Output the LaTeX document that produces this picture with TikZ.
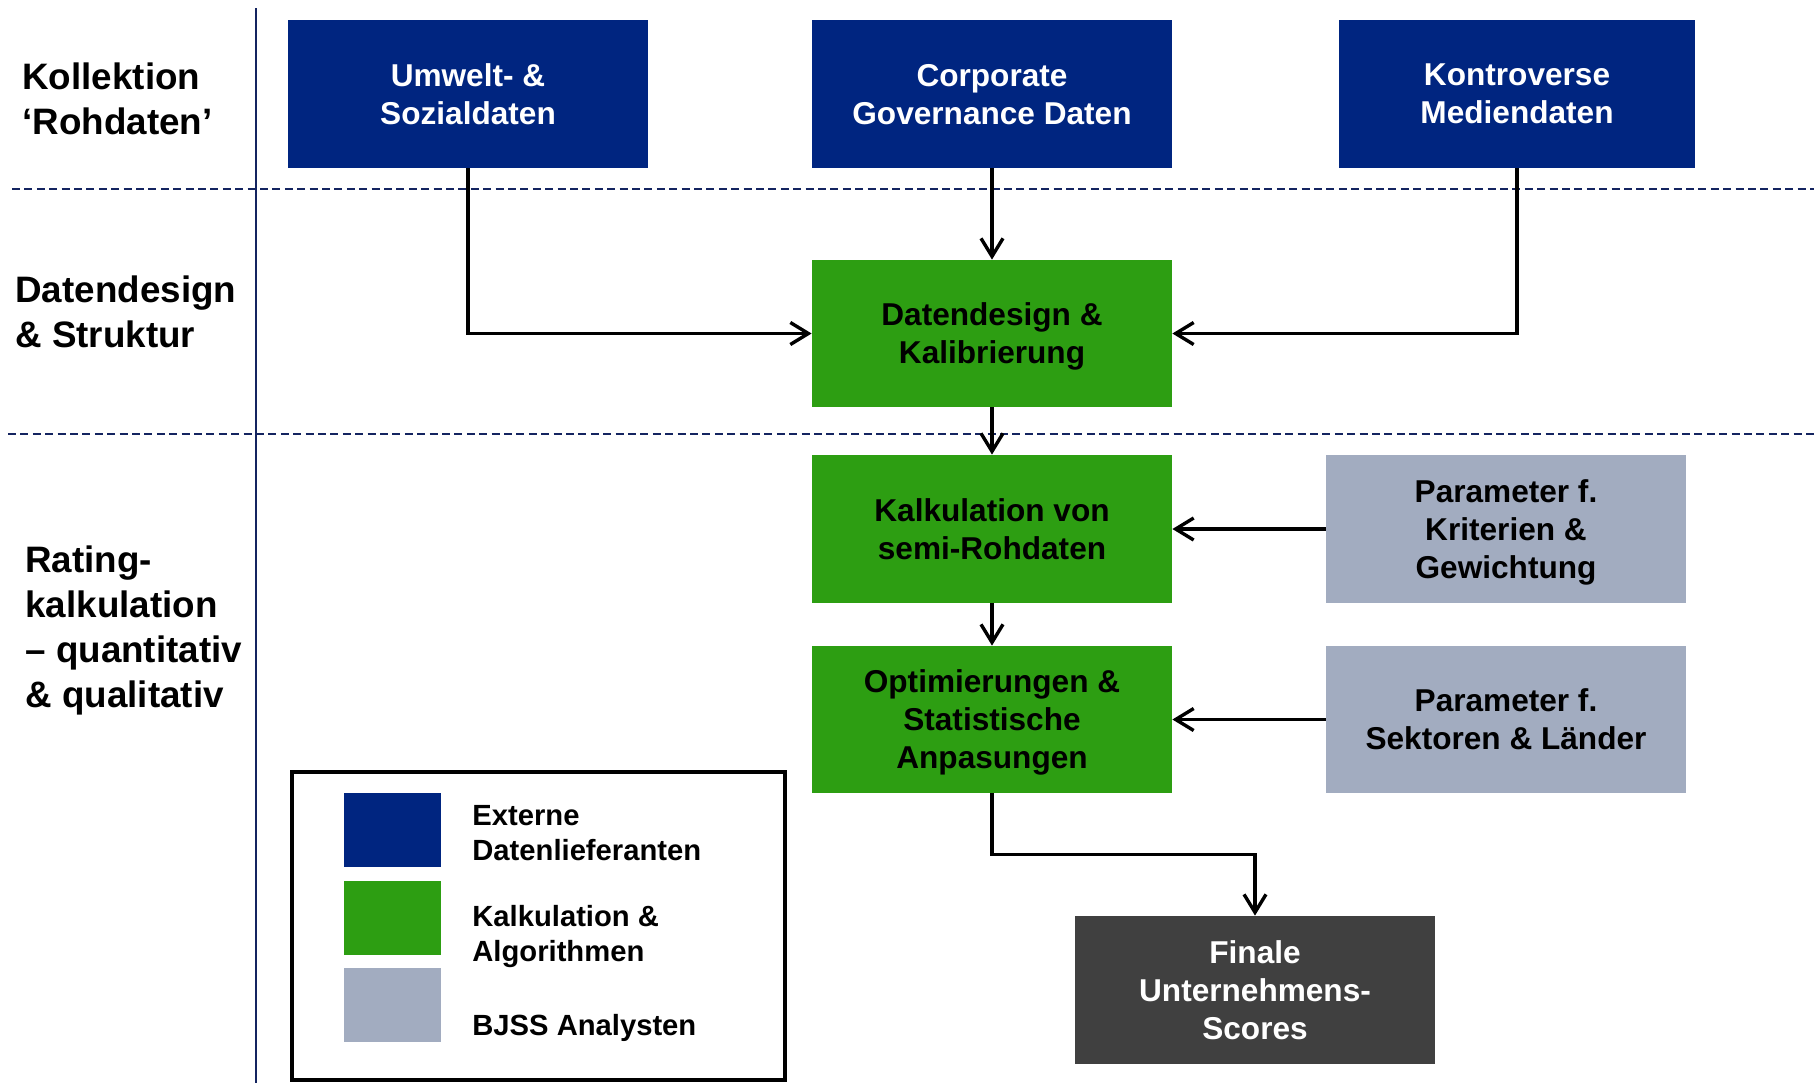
\documentclass[tikz,border=0pt]{standalone}
\usepackage{fontspec}
\setmainfont{Liberation Sans}
\usetikzlibrary{arrows.meta,calc}
\definecolor{cblue}{RGB}{0,37,128}
\definecolor{cgreen}{RGB}{45,158,18}
\definecolor{cgray}{RGB}{162,172,192}
\definecolor{cdark}{RGB}{64,64,64}
\definecolor{cnavy}{RGB}{20,36,96}
\tikzset{
  box/.style={rectangle, inner sep=0pt, minimum width=180pt, minimum height=74pt, align=center,
    font=\fontsize{15.8pt}{19pt}\selectfont\bfseries, text depth=-1pt},
  bluebox/.style={box, fill=cblue, text=white},
  greenbox/.style={box, fill=cgreen, text=black},
  graybox/.style={box, fill=cgray, text=black},
  darkbox/.style={box, fill=cdark, text=white},
  sidelabel/.style={anchor=west, inner sep=0pt, align=left, font=\fontsize{18.4pt}{22.5pt}\selectfont\bfseries},
  legtext/.style={anchor=west, inner sep=0pt, align=left, font=\fontsize{14.6pt}{17.5pt}\selectfont\bfseries},
  legsq/.style={rectangle, inner sep=0pt, minimum width=48.5pt, minimum height=37pt},
  arr/.style={line width=1.7pt, -{Straight Barb[length=9pt,width=11pt,line width=1.7pt]}},
  sep/.style={cnavy, line width=0.8pt, dash pattern=on 4pt off 2.2pt},
}
\begin{document}
\begin{tikzpicture}[x=0.5pt,y=-0.5pt]
\fill[white] (0,0) rectangle (1814,1083);
\useasboundingbox (0,0) rectangle (1814,1083);

% separators
\draw[sep] (12,189) -- (1814,189);
\draw[sep] (8,434) -- (1814,434);
\draw[cnavy, line width=1.3pt] (256,8) -- (256,1083);

% side labels
\node[sidelabel] (l1) at (22,99) {Kollektion\\‘Rohdaten’};
\node[sidelabel] (l2) at (15,312) {Datendesign\\\& Struktur};
\node[sidelabel] (l3) at (25,630) {Rating-\\kalkulation\\– quantitativ\\\& qualitativ};

% boxes
\node[bluebox] (umw) at (468,94) {Umwelt- \&\\Sozialdaten};
\node[bluebox] (corp) at (992,94) {Corporate\\Governance Daten};
\node[bluebox, minimum width=178pt] (kont) at (1517,94) {Kontroverse\\Mediendaten};
\node[greenbox, minimum height=73.5pt] (dd) at (992,333.5) {Datendesign \&\\Kalibrierung};
\node[greenbox] (kalk) at (992,529) {Kalkulation von\\semi-Rohdaten};
\node[greenbox, minimum height=73.5pt] (opt) at (992,719.5) {Optimierungen \&\\Statistische\\Anpasungen};
\node[graybox] (par1) at (1506,529) {Parameter f.\\Kriterien \&\\Gewichtung};
\node[graybox, minimum height=73.5pt] (par2) at (1506,719.5) {Parameter f.\\Sektoren \& Länder};
\node[darkbox] (fin) at (1255,990) {Finale\\Unternehmens-\\Scores};

% connectors
\draw[arr] (umw.south) |- (dd.west);
\draw[arr] (corp.south) -- (dd.north);
\draw[arr] (kont.south) |- (dd.east);
\draw[arr] (dd.south) -- (kalk.north);
\draw[arr] (par1.west) -- (kalk.east);
\draw[arr] (kalk.south) -- (opt.north);
\draw[arr] (par2.west) -- (opt.east);
\draw[arr] (opt.south) |- ($(opt.south)!0.5!(fin.north)$) -| (fin.north);

% legend
\draw[black, line width=2pt] (292,772) rectangle (785,1080);
\node[legsq, fill=cblue] (lq1) at (392.5,830) {};
\node[legsq, fill=cgreen] (lq2) at (392.5,918) {};
\node[legsq, fill=cgray] (lq3) at (392.5,1005) {};
\node[legtext] (lt1) at (472,833) {Externe\\Datenlieferanten};
\node[legtext] (lt2) at (472,936) {Kalkulation \&\\Algorithmen};
\node[legtext, anchor=base west] (lt3) at (472,1035) {BJSS Analysten};
\end{tikzpicture}
\end{document}
